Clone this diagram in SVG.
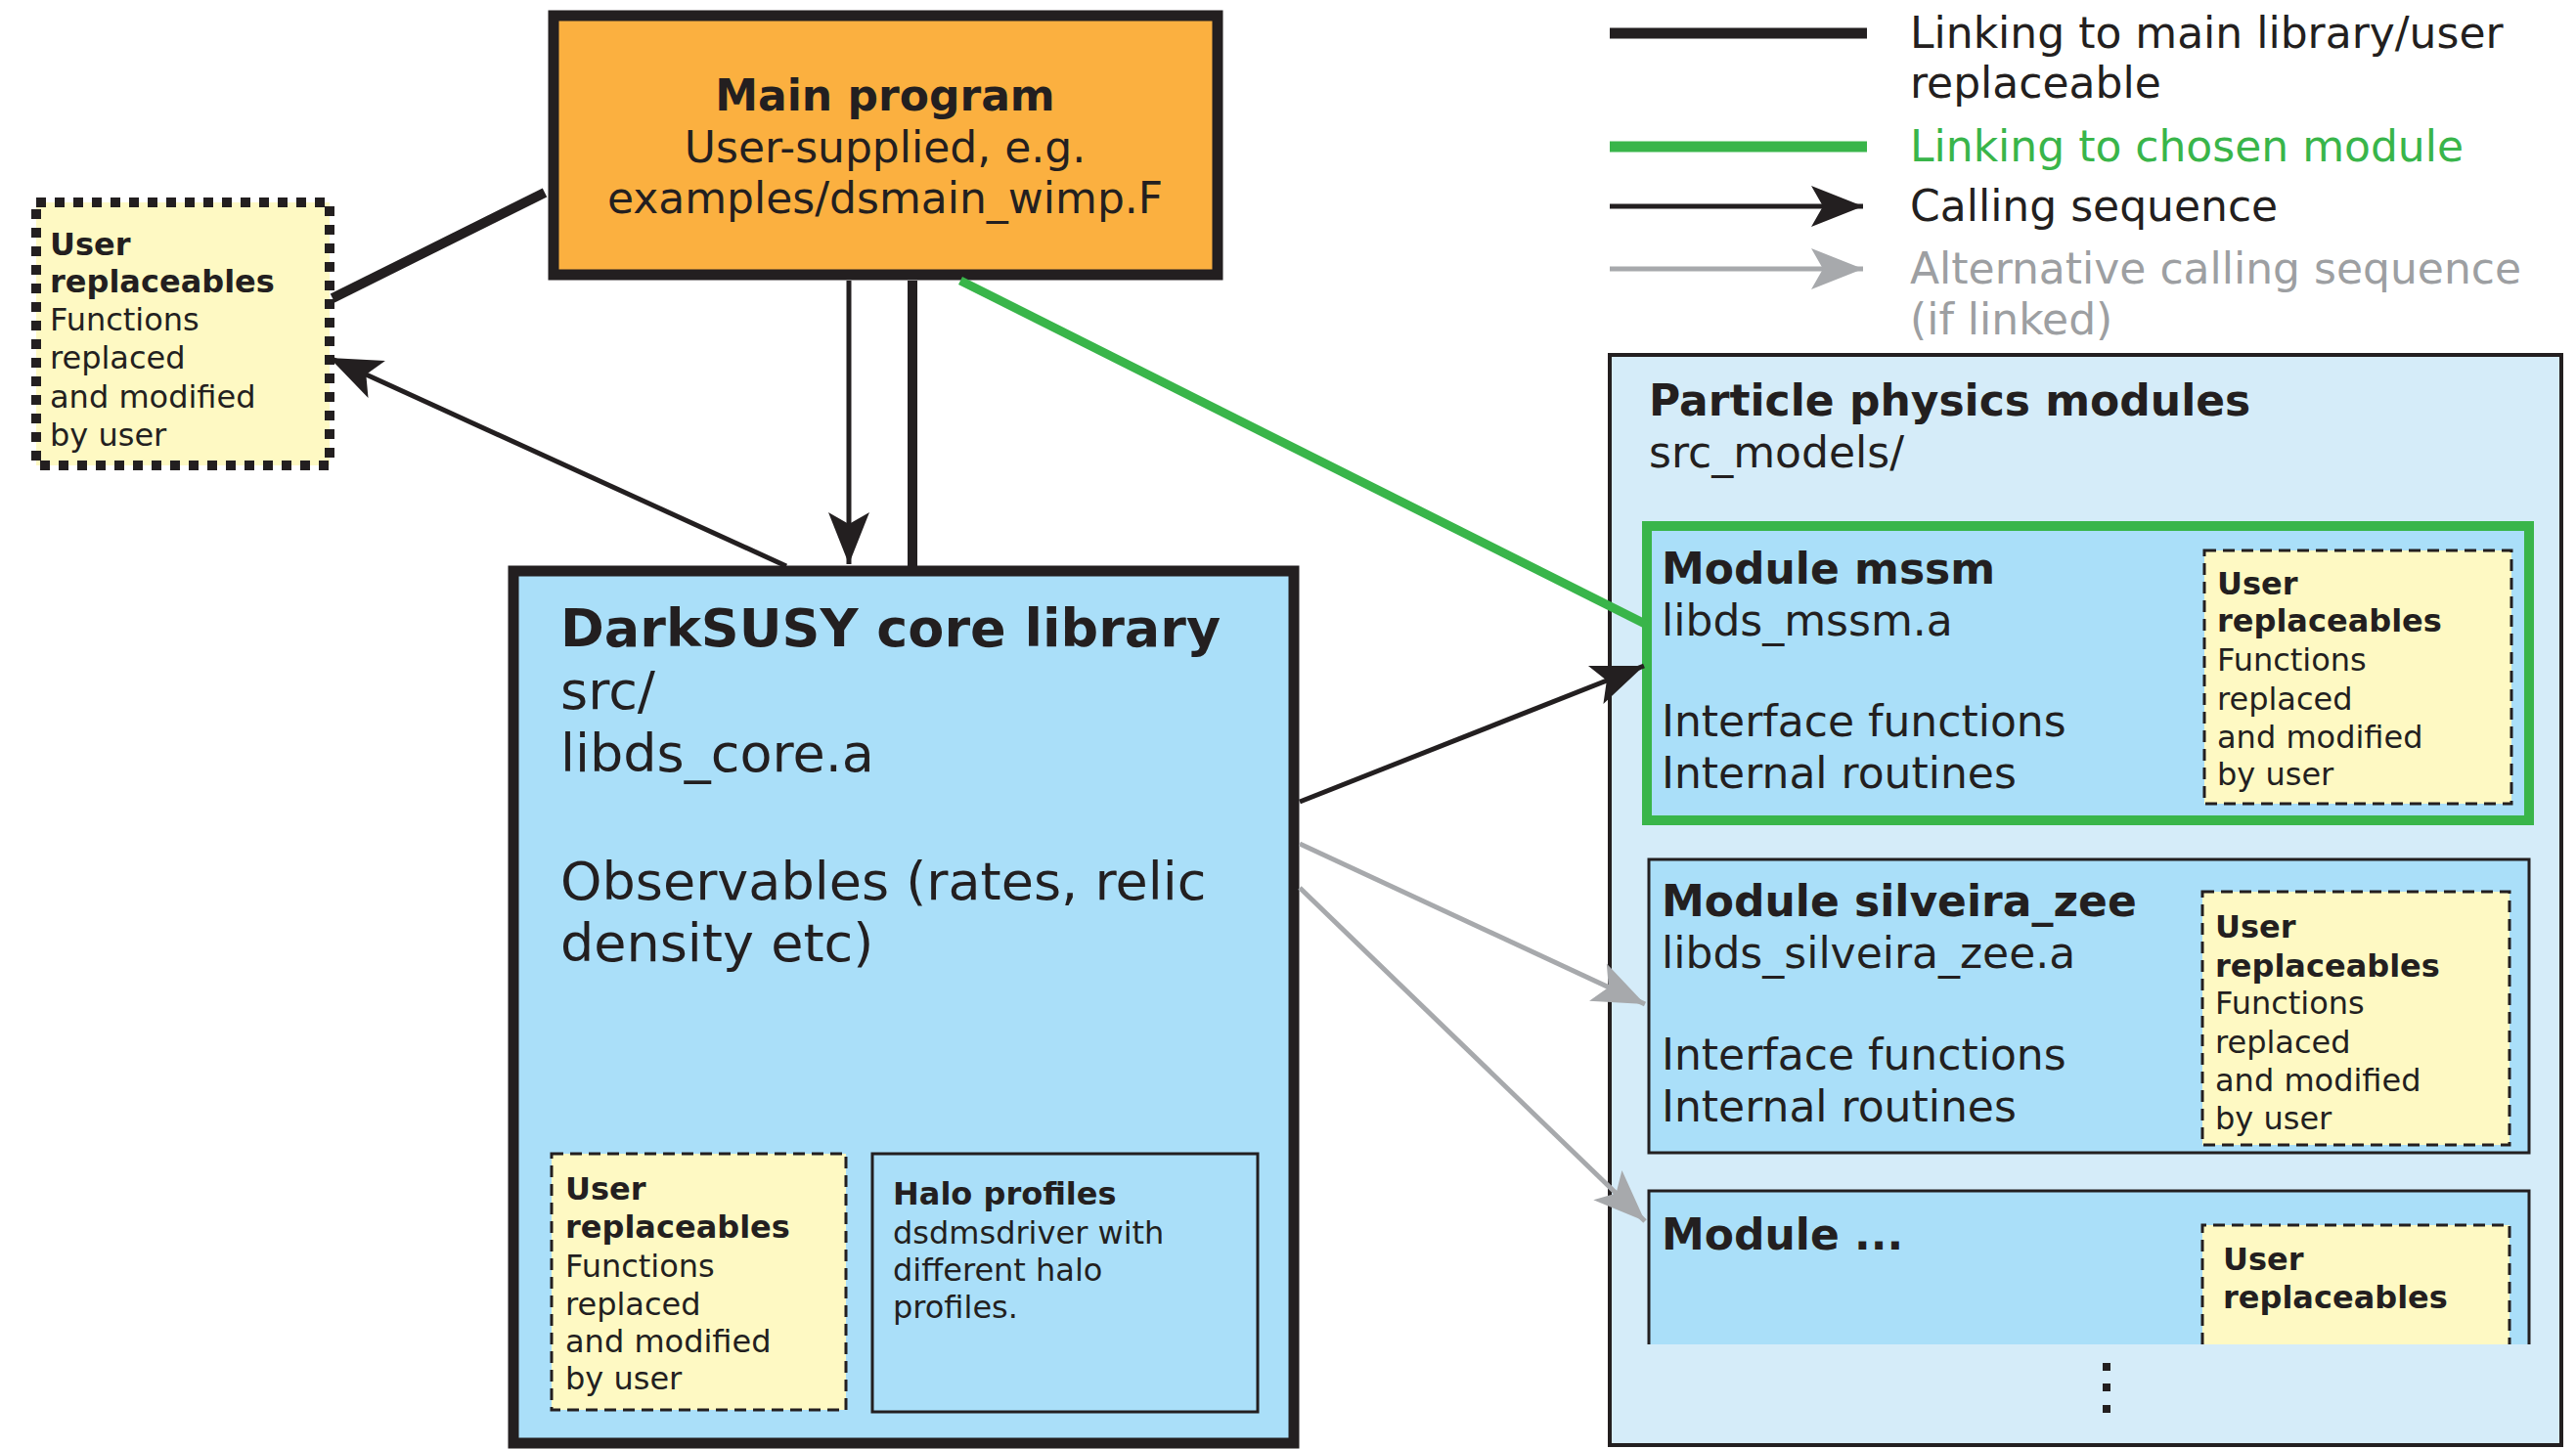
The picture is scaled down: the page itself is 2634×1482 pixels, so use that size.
<svg xmlns="http://www.w3.org/2000/svg" width="2634" height="1482" viewBox="0 0 2634 1482">
<style>
text{font-family:"DejaVu Sans","Verdana",sans-serif;fill:#231F20}
.b{font-weight:bold}
.t44{font-size:44px}
.t54{font-size:54px}
.t32{font-size:32px}
.dark{stroke:#231F20;fill:none}
.ur{fill:#FEF9C3;stroke:#231F20;stroke-width:3;stroke-dasharray:12 7}
.mod{fill:#AADFF9;stroke:#231F20;stroke-width:3}
</style>
<defs>
<marker id="ahb" markerUnits="userSpaceOnUse" markerWidth="60" markerHeight="50" viewBox="-60 -25 60 50" refX="0" refY="0" orient="auto"><path d="M0,0 L-53,-21 L-41,0 L-53,21 Z" fill="#231F20"/></marker>
<marker id="ahg" markerUnits="userSpaceOnUse" markerWidth="60" markerHeight="50" viewBox="-60 -25 60 50" refX="0" refY="0" orient="auto"><path d="M0,0 L-53,-21 L-41,0 L-53,21 Z" fill="#A7A9AC"/></marker>
</defs>
<rect x="0" y="0" width="2634" height="1482" fill="#FFFFFF"/>

<g id="legend">
<line x1="1646" y1="34" x2="1909" y2="34" stroke="#231F20" stroke-width="11"/>
<text class="t44" x="1953" y="49">Linking to main library/user</text>
<text class="t44" x="1953" y="100">replaceable</text>
<line x1="1646" y1="150" x2="1909" y2="150" stroke="#39B54A" stroke-width="11"/>
<text class="t44" x="1953" y="165" style="fill:#39B54A">Linking to chosen module</text>
<line x1="1646" y1="211" x2="1905" y2="211" stroke="#231F20" stroke-width="5" marker-end="url(#ahb)"/>
<text class="t44" x="1953" y="226">Calling sequence</text>
<line x1="1646" y1="275" x2="1905" y2="275" stroke="#A7A9AC" stroke-width="5" marker-end="url(#ahg)"/>
<text class="t44" x="1953" y="290" style="fill:#9D9FA2">Alternative calling sequence</text>
<text class="t44" x="1953" y="342" style="fill:#9D9FA2">(if linked)</text>
</g>

<g id="main-program">
<rect x="566" y="16" width="679" height="265" fill="#FBB040" stroke="#231F20" stroke-width="11"/>
<text class="t44 b" x="905" y="113" text-anchor="middle">Main program</text>
<text class="t44" x="905" y="166" text-anchor="middle">User-supplied, e.g.</text>
<text class="t44" x="905" y="218" text-anchor="middle">examples/dsmain_wimp.F</text>
</g>

<g id="user-replaceables-main">
<rect x="37" y="207" width="300" height="269" fill="#FEF9C3" stroke="#231F20" stroke-width="10" stroke-dasharray="10 9"/>
<text class="t32 b" x="51" y="261">User</text>
<text class="t32 b" x="51" y="299">replaceables</text>
<text class="t32" x="51" y="338">Functions</text>
<text class="t32" x="51" y="377">replaced</text>
<text class="t32" x="51" y="417">and modified</text>
<text class="t32" x="51" y="456">by user</text>
</g>

<g id="core-library">
<rect x="525" y="584" width="798" height="892" fill="#AADFF9" stroke="#231F20" stroke-width="11"/>
<text class="t54 b" x="573" y="661">DarkSUSY core library</text>
<text class="t54" x="573" y="725">src/</text>
<text class="t54" x="573" y="789">libds_core.a</text>
<text class="t54" x="573" y="920">Observables (rates, relic</text>
<text class="t54" x="573" y="983">density etc)</text>
</g>

<g id="core-user-replaceables">
<rect class="ur" x="564" y="1180" width="301" height="262"/>
<text class="t32 b" x="578" y="1227">User</text>
<text class="t32 b" x="578" y="1266">replaceables</text>
<text class="t32" x="578" y="1306">Functions</text>
<text class="t32" x="578" y="1345">replaced</text>
<text class="t32" x="578" y="1383">and modified</text>
<text class="t32" x="578" y="1421">by user</text>
</g>

<g id="halo-profiles">
<rect x="892" y="1180" width="394" height="264" fill="#AADFF9" stroke="#231F20" stroke-width="3"/>
<text class="t32 b" x="913" y="1232">Halo profiles</text>
<text class="t32" x="913" y="1272">dsdmsdriver with</text>
<text class="t32" x="913" y="1310">different halo</text>
<text class="t32" x="913" y="1348">profiles.</text>
</g>

<g id="particle-physics-modules">
<rect x="1646" y="363" width="973" height="1115" fill="#D5ECF9" stroke="#231F20" stroke-width="4"/>
<text class="t44 b" x="1686" y="425">Particle physics modules</text>
<text class="t44" x="1686" y="478">src_models/</text>
<rect x="2150" y="1394" width="8" height="8" fill="#231F20"/>
<rect x="2150" y="1415" width="8" height="8" fill="#231F20"/>
<rect x="2150" y="1437" width="8" height="8" fill="#231F20"/>
</g>

<g id="module-mssm">
<rect x="1684" y="538" width="902" height="301" fill="#AADFF9" stroke="#39B54A" stroke-width="10"/>
<text class="t44 b" x="1699" y="597">Module mssm</text>
<text class="t44" x="1699" y="650">libds_mssm.a</text>
<text class="t44" x="1699" y="753">Interface functions</text>
<text class="t44" x="1699" y="806">Internal routines</text>
<rect class="ur" x="2254" y="563" width="314" height="259"/>
<text class="t32 b" x="2267" y="608">User</text>
<text class="t32 b" x="2267" y="646">replaceables</text>
<text class="t32" x="2267" y="686">Functions</text>
<text class="t32" x="2267" y="726">replaced</text>
<text class="t32" x="2267" y="765">and modified</text>
<text class="t32" x="2267" y="803">by user</text>
</g>

<g id="module-silveira-zee">
<rect class="mod" x="1686" y="879" width="900" height="300"/>
<text class="t44 b" x="1699" y="937">Module silveira_zee</text>
<text class="t44" x="1699" y="990">libds_silveira_zee.a</text>
<text class="t44" x="1699" y="1094">Interface functions</text>
<text class="t44" x="1699" y="1147">Internal routines</text>
<rect class="ur" x="2252" y="912" width="314" height="259"/>
<text class="t32 b" x="2265" y="959">User</text>
<text class="t32 b" x="2265" y="999">replaceables</text>
<text class="t32" x="2265" y="1037">Functions</text>
<text class="t32" x="2265" y="1077">replaced</text>
<text class="t32" x="2265" y="1116">and modified</text>
<text class="t32" x="2265" y="1155">by user</text>
</g>

<g id="module-more">
<path class="mod" d="M1686,1375 V1218 H2586 V1375"/>
<text class="t44 b" x="1699" y="1278">Module ...</text>
<path class="ur" d="M2252,1375 V1253 H2566 V1375"/>
<text class="t32 b" x="2273" y="1299">User</text>
<text class="t32 b" x="2273" y="1338">replaceables</text>
</g>

<g id="connectors">
<line x1="557" y1="197" x2="340" y2="305" stroke="#231F20" stroke-width="10"/>
<line x1="868" y1="287" x2="868" y2="577" stroke="#231F20" stroke-width="5" marker-end="url(#ahb)"/>
<line x1="933" y1="287" x2="933" y2="579" stroke="#231F20" stroke-width="10"/>
<line x1="982" y1="287" x2="1684" y2="639" stroke="#39B54A" stroke-width="9"/>
<line x1="804" y1="579" x2="337" y2="366" stroke="#231F20" stroke-width="5" marker-end="url(#ahb)"/>
<line x1="1329" y1="820" x2="1681" y2="681" stroke="#231F20" stroke-width="5" marker-end="url(#ahb)"/>
<line x1="1329" y1="863" x2="1682" y2="1027" stroke="#A7A9AC" stroke-width="5" marker-end="url(#ahg)"/>
<line x1="1329" y1="908" x2="1682" y2="1249" stroke="#A7A9AC" stroke-width="5" marker-end="url(#ahg)"/>
</g>
</svg>
